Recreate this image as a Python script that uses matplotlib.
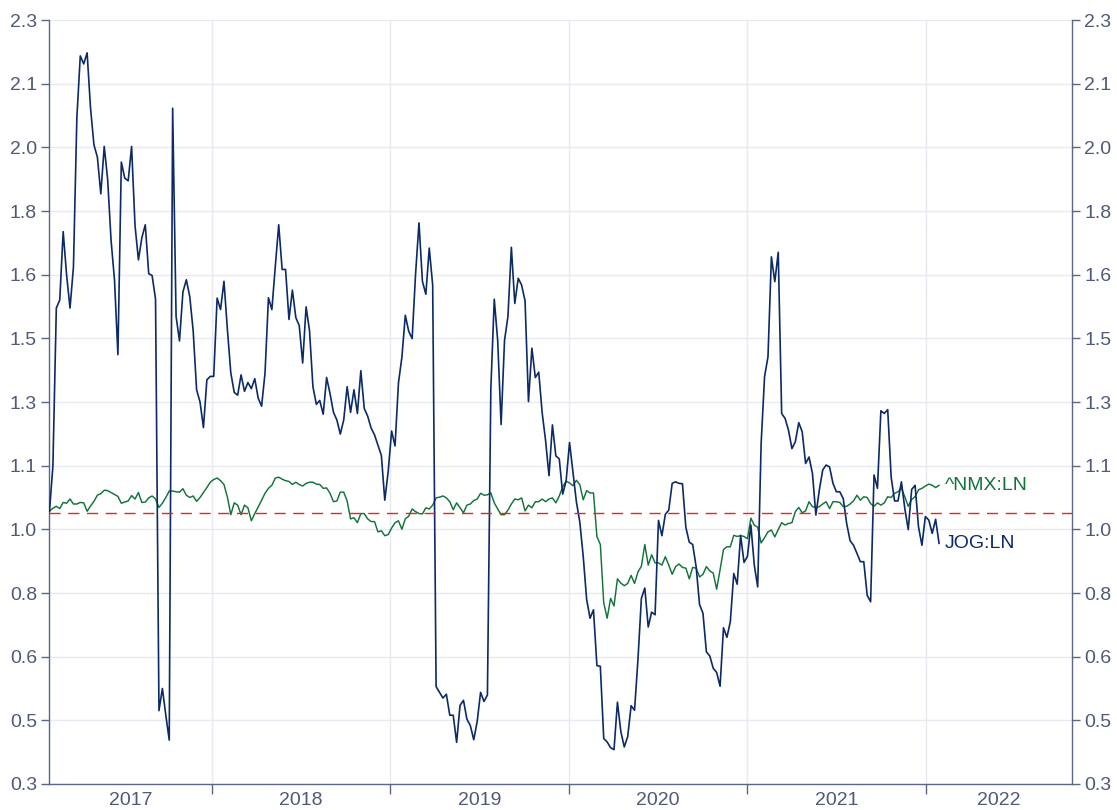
import matplotlib
matplotlib.use("Agg")
import matplotlib.pyplot as plt
import numpy as np
import pandas as pd

# ---------------- data ----------------
start_date = "2017-02-03"
x_end = "2022-10-27"
baseline = 1.0
y_min, y_max = 0.29, 2.29

jog_values = [
    1.004, 1.123, 1.536, 1.557, 1.736, 1.623, 1.536, 1.643, 2.034, 2.196,
    2.175, 2.204, 2.059, 1.963, 1.931, 1.835, 1.959, 1.873, 1.713, 1.61,
    1.414, 1.918, 1.876, 1.869, 1.959, 1.752, 1.662, 1.72, 1.754, 1.626,
    1.621, 1.559, 0.482, 0.54, 0.47, 0.405, 2.059, 1.514, 1.45, 1.578,
    1.61, 1.566, 1.476, 1.322, 1.29, 1.223, 1.348, 1.357, 1.357, 1.562,
    # 2018
    1.532, 1.606, 1.48, 1.366, 1.315, 1.308, 1.361, 1.318, 1.341, 1.325,
    1.351, 1.3, 1.279, 1.366, 1.563, 1.532, 1.645, 1.754, 1.637, 1.637,
    1.506, 1.583, 1.511, 1.49, 1.392, 1.539, 1.477, 1.33, 1.284, 1.294,
    1.258, 1.354, 1.312, 1.263, 1.243, 1.206, 1.243, 1.33, 1.263, 1.322,
    1.26, 1.372, 1.273, 1.253, 1.222, 1.204, 1.177, 1.15, 1.033, 1.108,
    1.214, 1.175, 1.34,
    # 2019
    1.407, 1.517, 1.475, 1.456, 1.625, 1.759, 1.606, 1.572, 1.693, 1.596,
    0.545, 0.53, 0.515, 0.525, 0.47, 0.47, 0.399, 0.496, 0.509, 0.46,
    0.443, 0.406, 0.453, 0.53, 0.506, 0.523, 1.325, 1.559, 1.451, 1.231,
    1.451, 1.514, 1.695, 1.548, 1.614, 1.596, 1.555, 1.291, 1.431, 1.354,
    1.368, 1.262, 1.189, 1.097, 1.23, 1.149, 1.141, 1.049, 1.083, 1.184,
    1.107, 1.029,
    # 2020
    0.976, 0.886, 0.773, 0.724, 0.746, 0.6, 0.598, 0.409, 0.4, 0.385,
    0.38, 0.504, 0.427, 0.387, 0.414, 0.495, 0.483, 0.616, 0.776, 0.803,
    0.701, 0.74, 0.733, 0.98, 0.94, 0.996, 1.007, 1.077, 1.081, 1.077,
    1.076, 0.962, 0.923, 0.917, 0.859, 0.76, 0.737, 0.636, 0.625, 0.593,
    0.582, 0.546, 0.699, 0.674, 0.715, 0.841, 0.813, 0.941, 0.87, 0.886,
    0.968, 0.863, 0.806,
    # 2021
    1.181, 1.356, 1.408, 1.67, 1.605, 1.682, 1.26, 1.247, 1.216, 1.168,
    1.186, 1.236, 1.212, 1.129, 1.146, 1.103, 0.994, 1.059, 1.112, 1.125,
    1.12, 1.077, 1.055, 1.055, 1.037, 0.972, 0.927, 0.915, 0.894, 0.872,
    0.872, 0.784, 0.767, 1.099, 1.064, 1.267, 1.26, 1.27, 1.094, 1.031,
    1.031, 1.081, 1.011, 0.956, 1.061, 1.072, 0.963, 0.915, 0.99, 0.981,
    0.946, 0.983, 0.92,
]

nmx_values = [
    1.004, 1.012, 1.017, 1.011, 1.027, 1.025, 1.036, 1.023, 1.023, 1.027,
    1.026, 1.004, 1.018, 1.03, 1.046, 1.05, 1.059, 1.058, 1.053, 1.048,
    1.043, 1.025, 1.028, 1.031, 1.045, 1.036, 1.053, 1.027, 1.028, 1.039,
    1.044, 1.036, 1.014, 1.025, 1.04, 1.057, 1.057, 1.055, 1.054, 1.063,
    1.046, 1.04, 1.044, 1.03, 1.04, 1.053, 1.066, 1.08, 1.087, 1.091,
    # 2018
    1.084, 1.074, 1.041, 0.995, 1.026, 1.02, 0.995, 1.02, 1.013, 0.979,
    0.998, 1.015, 1.033, 1.051, 1.064, 1.072, 1.091, 1.093, 1.088, 1.084,
    1.082, 1.074, 1.08, 1.074, 1.07, 1.077, 1.08, 1.08, 1.075, 1.074,
    1.064, 1.065, 1.051, 1.029, 1.031, 1.054, 1.054, 1.031, 0.984, 0.987,
    0.974, 0.998, 0.998, 0.984, 0.977, 0.977, 0.95, 0.953, 0.94, 0.943,
    0.96, 0.974, 0.979,
    # 2019
    0.957, 0.984, 0.991, 1.01, 1.003, 0.998, 0.997, 1.013, 1.01, 1.02,
    1.039, 1.041, 1.044, 1.039, 1.029, 1.008, 1.026, 1.013, 1.0, 1.02,
    1.023, 1.032, 1.036, 1.051, 1.046, 1.047, 1.052, 1.026, 1.01, 0.995,
    0.995, 1.007, 1.023, 1.036, 1.034, 1.039, 1.005, 1.02, 1.013, 1.029,
    1.029, 1.036, 1.029, 1.036, 1.039, 1.026, 1.044, 1.068, 1.083, 1.078,
    1.071, 1.085,
    # 2020
    1.074, 1.034, 1.058, 1.052, 1.052, 0.938, 0.917, 0.764, 0.724, 0.776,
    0.756, 0.827, 0.816, 0.809, 0.815, 0.836, 0.815, 0.845, 0.86, 0.917,
    0.863, 0.89, 0.869, 0.869, 0.863, 0.885, 0.863, 0.839, 0.859, 0.866,
    0.857, 0.855, 0.827, 0.857, 0.855, 0.832, 0.839, 0.859, 0.848, 0.842,
    0.8, 0.851, 0.904, 0.911, 0.911, 0.941, 0.938, 0.94, 0.938, 0.932,
    0.986, 0.968, 0.962,
    # 2021
    0.921, 0.935, 0.95, 0.955, 0.937, 0.956, 0.974, 0.968, 0.972, 0.974,
    1.003, 1.014, 1.0, 1.005, 1.029, 1.016, 1.014, 1.016, 1.023, 1.029,
    1.011, 1.029, 1.029, 1.027, 1.016, 1.017, 1.023, 1.031, 1.046, 1.033,
    1.042, 1.04, 1.024, 1.017, 1.026, 1.02, 1.026, 1.042, 1.04, 1.051,
    1.055, 1.064, 1.042, 1.017, 1.035, 1.042, 1.06, 1.064, 1.07, 1.075,
    1.072, 1.066, 1.072,
]

series_names = ["JOG:LN", "^NMX:LN"]
series_colors = ["#0c2a66", "#12733a"]
year_labels = ["2017", "2018", "2019", "2020", "2021", "2022"]

# ---------------- plot ----------------
plt.rcParams["font.family"] = ["Liberation Sans", "DejaVu Sans"]
text_color = "#4f5a78"
axis_color = "#5b6685"
grid_color = "#e8eaf1"
fs = 14

dates = pd.date_range(start_date, periods=len(jog_values), freq="W-FRI")

fig = plt.figure(figsize=(11.17, 8.10), dpi=100)
ax = fig.add_axes([0.0443, 0.0321, 0.9154, 0.9432])

ax.plot(dates, nmx_values, color=series_colors[1], lw=1.05, zorder=3)
ax.plot(dates, jog_values, color=series_colors[0], lw=1.2, zorder=4)
ax.axhline(baseline, color="#e3261f", lw=1.0, dashes=(8, 5.5), zorder=5)

x0 = dates[0]
x1 = pd.Timestamp(x_end)
ax.set_xlim(x0, x1)
ax.set_ylim(y_min, y_max)

yt = np.linspace(y_min, y_max, 13)
ax.set_yticks(yt)
ax.set_yticklabels([f"{v:.1f}" for v in yt])

# year boundaries (major, unlabeled) and centred year labels (minor)
bounds = [pd.Timestamp(f"{y}-01-01") for y in year_labels[1:]]
ax.set_xticks(bounds)
ax.set_xticklabels([""] * len(bounds))
edges = [x0] + bounds + [x1]
centers = [edges[i] + (edges[i + 1] - edges[i]) / 2 for i in range(len(edges) - 1)]
ax.set_xticks(centers, minor=True)
ax.set_xticklabels(year_labels, minor=True)
ax.tick_params(axis="x", which="minor", length=0, pad=5.5, labelsize=fs, colors=text_color)
ax.tick_params(axis="x", which="major", length=7.5, width=1, color=axis_color, direction="out")
ax.tick_params(axis="y", length=6, width=1, color=axis_color, labelsize=fs,
               labelcolor=text_color, pad=3)

ax.grid(True, which="major", color=grid_color, lw=1.0, zorder=0)
ax.set_axisbelow(True)

for s in ["top", "right"]:
    ax.spines[s].set_visible(False)
for s in ["left", "bottom"]:
    ax.spines[s].set_color(axis_color)
    ax.spines[s].set_linewidth(1.0)

ax2 = ax.twinx()
ax2.set_ylim(y_min, y_max)
ax2.set_yticks(yt)
ax2.set_yticklabels([f"{v:.1f}" for v in yt])
ax2.tick_params(axis="y", length=6, width=1, color=axis_color, labelsize=fs,
                labelcolor=text_color, pad=3)
for s in ["top", "left", "bottom"]:
    ax2.spines[s].set_visible(False)
ax2.spines["right"].set_color(axis_color)
ax2.spines["right"].set_linewidth(1.0)

# end labels
ax.annotate(series_names[1], xy=(dates[-1], nmx_values[-1]), xytext=(4, 0),
            textcoords="offset points", va="center", ha="left",
            fontsize=fs, color=series_colors[1])
ax.annotate(series_names[0], xy=(dates[-1], jog_values[-1]), xytext=(4, 0),
            textcoords="offset points", va="center", ha="left",
            fontsize=fs, color=series_colors[0])

fig.savefig("out.png", dpi=100)
